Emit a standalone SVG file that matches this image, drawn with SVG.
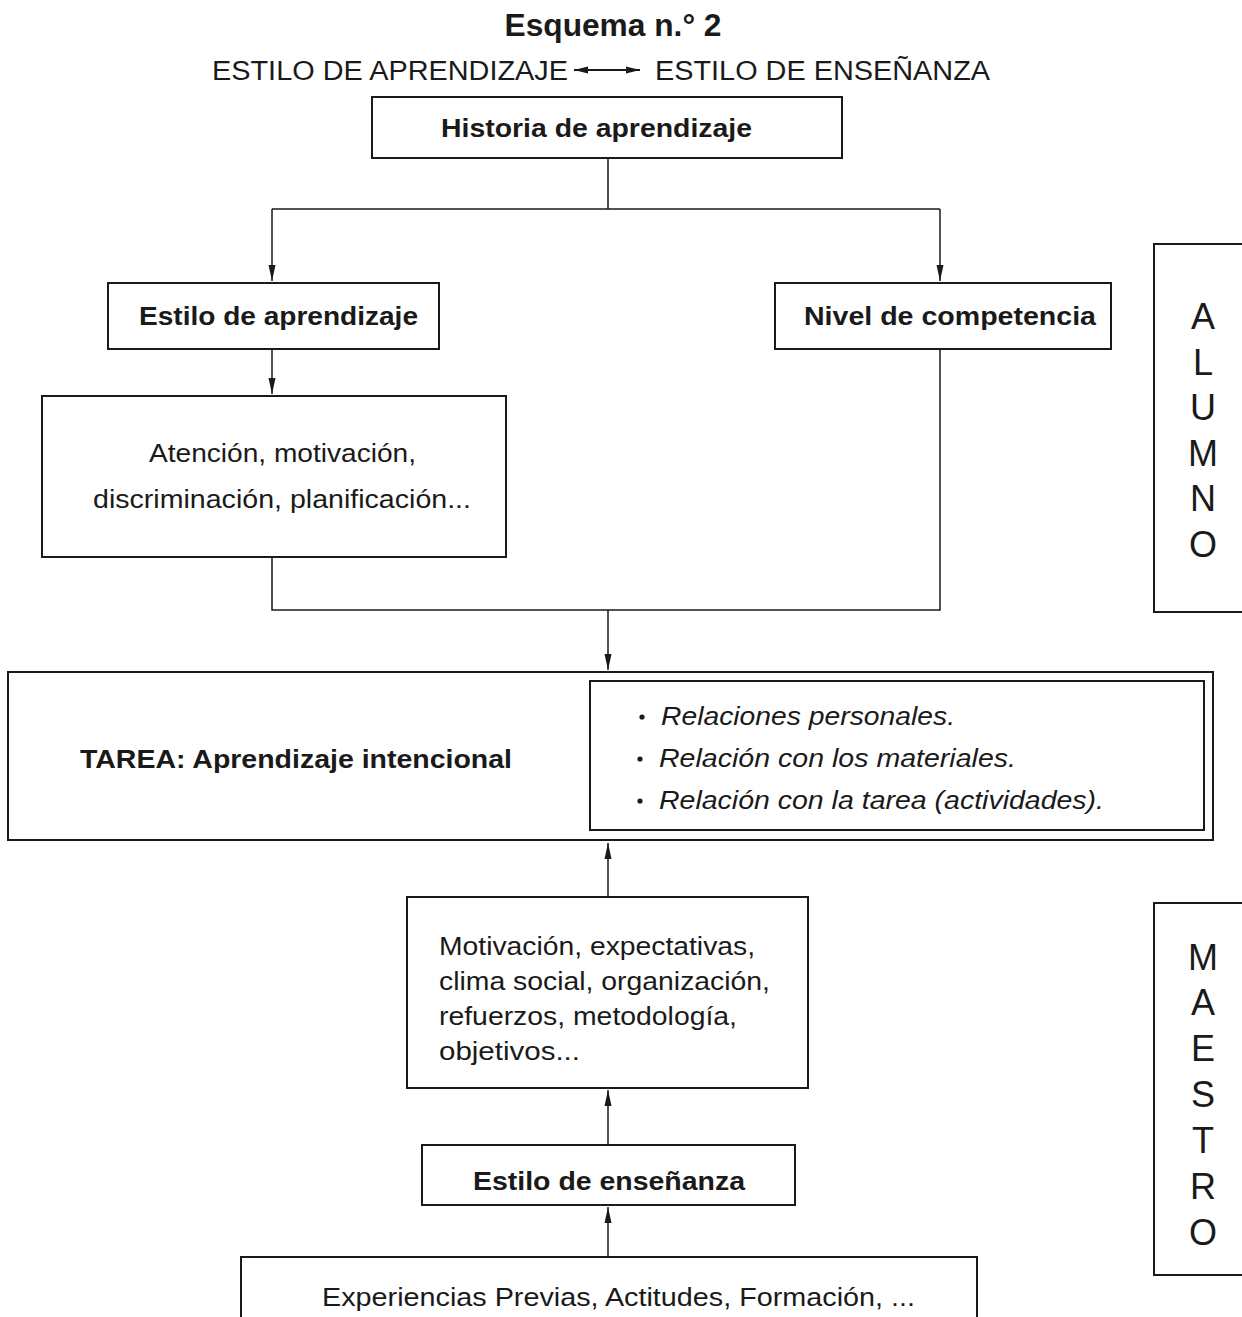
<svg xmlns="http://www.w3.org/2000/svg" width="1242" height="1317" viewBox="0 0 1242 1317">
<defs>
<style>
.box{fill:#fff;stroke:#1a1a1a;stroke-width:2}
.side{fill:none;stroke:#1a1a1a;stroke-width:2}
.con{fill:none;stroke:#1a1a1a;stroke-width:1.5}
text{font-family:"Liberation Sans",Arial,Helvetica,sans-serif;fill:#1a1a1a}
.b{font-weight:bold;font-size:26px}
.r{font-size:25px}
.i{font-style:italic;font-size:25px}
.v{font-size:36px;text-anchor:middle}
</style>
<marker id="ah" viewBox="0 0 16 8" refX="16" refY="4" markerWidth="16" markerHeight="8" markerUnits="userSpaceOnUse" orient="auto">
<path d="M0,0.5 L16,4 L0,7.5 z" fill="#1a1a1a"/>
</marker>
<marker id="ah2" viewBox="0 0 14 8" refX="14" refY="4" markerWidth="14" markerHeight="8" markerUnits="userSpaceOnUse" orient="auto">
<path d="M0,0.5 L14,4 L0,7.5 z" fill="#1a1a1a"/>
</marker>
<marker id="ah2s" viewBox="0 0 14 8" refX="0" refY="4" markerWidth="14" markerHeight="8" markerUnits="userSpaceOnUse" orient="auto">
<path d="M14,0.5 L0,4 L14,7.5 z" fill="#1a1a1a"/>
</marker>
</defs>
<rect width="1242" height="1317" fill="#fff"/>

<g id="title">
<text x="613" y="36" text-anchor="middle" font-size="31" font-weight="bold" textLength="217" lengthAdjust="spacingAndGlyphs">Esquema n.° 2</text>
<text x="212" y="80" font-size="27" textLength="356" lengthAdjust="spacingAndGlyphs">ESTILO DE APRENDIZAJE</text>
<line x1="574" y1="70" x2="640" y2="70" stroke="#1a1a1a" stroke-width="2" marker-start="url(#ah2s)" marker-end="url(#ah2)"/>
<text x="655" y="80" font-size="27" textLength="335" lengthAdjust="spacingAndGlyphs">ESTILO DE ENSEÑANZA</text>
</g>

<g id="connectors">
<path class="con" d="M608,158 V209 M272,209 H940"/>
<path class="con" d="M272,209 V281" marker-end="url(#ah)"/>
<path class="con" d="M940,209 V281" marker-end="url(#ah)"/>
<path class="con" d="M272,349 V394" marker-end="url(#ah)"/>
<path class="con" d="M272,557 V610 H940 V349"/>
<path class="con" d="M608,610 V670" marker-end="url(#ah)"/>
<path class="con" d="M608,897 V843" marker-end="url(#ah)"/>
<path class="con" d="M608,1145 V1090" marker-end="url(#ah)"/>
<path class="con" d="M608,1257 V1207" marker-end="url(#ah)"/>
</g>

<g id="historia">
<rect class="box" x="372" y="97" width="470" height="61"/>
<text class="b" x="441" y="137" textLength="311" lengthAdjust="spacingAndGlyphs">Historia de aprendizaje</text>
</g>

<g id="estilo-aprendizaje">
<rect class="box" x="108" y="283" width="331" height="66"/>
<text class="b" x="139" y="325" textLength="279" lengthAdjust="spacingAndGlyphs">Estilo de aprendizaje</text>
</g>

<g id="nivel-competencia">
<rect class="box" x="775" y="283" width="336" height="66"/>
<text class="b" x="804" y="325" textLength="292" lengthAdjust="spacingAndGlyphs">Nivel de competencia</text>
</g>

<g id="atencion">
<rect class="box" x="42" y="396" width="464" height="161"/>
<text class="r" x="149" y="462" textLength="267" lengthAdjust="spacingAndGlyphs">Atención, motivación,</text>
<text class="r" x="93" y="508" textLength="378" lengthAdjust="spacingAndGlyphs">discriminación, planificación...</text>
</g>

<g id="tarea">
<rect class="box" x="8" y="672" width="1205" height="168"/>
<text class="b" x="80" y="768" textLength="432" lengthAdjust="spacingAndGlyphs">TAREA: Aprendizaje intencional</text>
</g>

<g id="relaciones">
<rect class="box" x="590" y="681" width="614" height="149"/>
<circle cx="642" cy="717" r="2.6" fill="#1a1a1a"/>
<circle cx="640" cy="759" r="2.6" fill="#1a1a1a"/>
<circle cx="640" cy="801" r="2.6" fill="#1a1a1a"/>
<text class="i" x="661" y="725" textLength="294" lengthAdjust="spacingAndGlyphs">Relaciones personales.</text>
<text class="i" x="659" y="767" textLength="357" lengthAdjust="spacingAndGlyphs">Relación con los materiales.</text>
<text class="i" x="659" y="809" textLength="445" lengthAdjust="spacingAndGlyphs">Relación con la tarea (actividades).</text>
</g>

<g id="motivacion">
<rect class="box" x="407" y="897" width="401" height="191"/>
<text class="r" x="439" y="955" textLength="316" lengthAdjust="spacingAndGlyphs">Motivación, expectativas,</text>
<text class="r" x="439" y="990" textLength="331" lengthAdjust="spacingAndGlyphs">clima social, organización,</text>
<text class="r" x="439" y="1025" textLength="298" lengthAdjust="spacingAndGlyphs">refuerzos, metodología,</text>
<text class="r" x="439" y="1060" textLength="141" lengthAdjust="spacingAndGlyphs">objetivos...</text>
</g>

<g id="estilo-ensenanza">
<rect class="box" x="422" y="1145" width="373" height="60"/>
<text class="b" x="473" y="1190" textLength="272" lengthAdjust="spacingAndGlyphs">Estilo de enseñanza</text>
</g>

<g id="experiencias">
<rect class="box" x="241" y="1257" width="736" height="80"/>
<text class="r" x="322" y="1306" textLength="593" lengthAdjust="spacingAndGlyphs">Experiencias Previas, Actitudes, Formación, ...</text>
</g>

<g id="alumno">
<path class="side" d="M1250,244 H1154 V612 H1250"/>
<text class="v" x="1203" y="329">A</text>
<text class="v" x="1203" y="375">L</text>
<text class="v" x="1203" y="420">U</text>
<text class="v" x="1203" y="466">M</text>
<text class="v" x="1203" y="511">N</text>
<text class="v" x="1203" y="557">O</text>
</g>

<g id="maestro">
<path class="side" d="M1250,903 H1154 V1275 H1250"/>
<text class="v" x="1203" y="970">M</text>
<text class="v" x="1203" y="1015">A</text>
<text class="v" x="1203" y="1061">E</text>
<text class="v" x="1203" y="1107">S</text>
<text class="v" x="1203" y="1153">T</text>
<text class="v" x="1203" y="1199">R</text>
<text class="v" x="1203" y="1245">O</text>
</g>
</svg>
